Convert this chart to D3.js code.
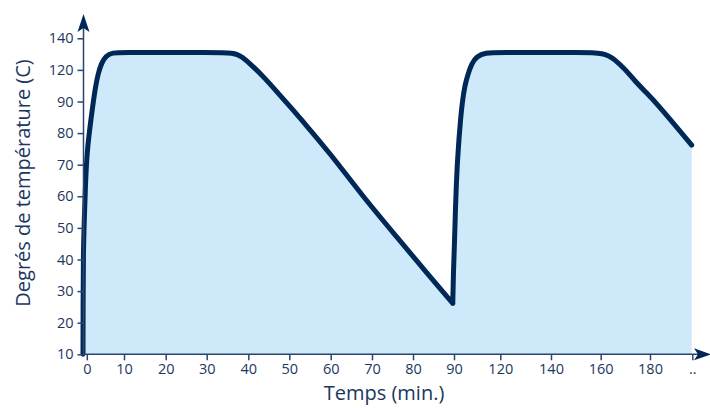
<!DOCTYPE html>
<html>
<head>
<meta charset="utf-8">
<script src="https://cdn.jsdelivr.net/npm/d3@7"></script>
<style>
    body { margin: 0; background: #fff; }
    text { font-family: "Open Sans", sans-serif; fill: #1c375e; }
</style>
</head>
<body>
<script>
// tick labels (the axes are not linear: every label sits at the same distance)
const xTicks = [0, 10, 20, 30, 40, 50, 60, 70, 80, 90, 120, 140, 160, 180, 200];
const xTickLabels = ["0", "10", "20", "30", "40", "50", "60", "70", "80", "90", "120", "140", "160", "180", ".."];
const yTicks = [10, 20, 30, 40, 50, 60, 70, 80, 90, 120, 140];

// temperature curve
const minutes = [-1.02, -0.99, -0.94, -0.67, -0.4, 0.05, 0.59, 1.13, 1.67, 2.28, 3.01, 3.95, 5.16, 6.77,
                 10, 20, 30, 36.8, 38.4, 40.8, 44.1, 47.3, 50.6, 53, 59.8, 67.8, 76, 84.1, 89.7,
                 89.87, 90.39, 90.91, 91.49, 92.2, 93.24, 94.3, 95.4, 97.1, 98.9, 101.5, 104.7, 110.1,
                 120, 140, 150, 161.7, 165.8, 169.9, 174, 178.1, 183.2, 199.7];
const temps = [10, 27.2, 42.1, 52.5, 63, 73.6, 79.4, 84.5, 89.2, 102.8, 116.1, 124.4, 128.8, 131,
               131, 131, 131, 131, 128.4, 123.1, 112, 97.8, 87.8, 84.1, 73.7, 59.9, 47.2, 34.6, 26.1,
               36.7, 46.2, 55.7, 63.6, 70.9, 78.4, 84.7, 89.9, 105.7, 115.2, 124.2, 128.4, 131,
               131, 131, 131, 131, 126.5, 120.4, 109.2, 99.3, 89.4, 76.2];
// the curve has a sharp corner at this point (end of cooling)
const cornerIndex = 28;

let width = 710, height = 408;

var svg = d3.select("body")
            .append("svg")
            .attr("width", width)
            .attr("height", height);

var xScale = d3.scaleLinear()
            .domain(xTicks)
            .range([86.8, 124, 165.7, 206.7, 248.3, 289.3, 330.7, 372, 413, 454, 500.3, 551, 600.7, 650, 692.3]);

var yScale = d3.scaleLinear()
            .domain(yTicks)
            .range(yTicks.map((d, i) => 354.3 - i * 31.6));

let points = minutes.map((m, i) => [m, temps[i]]);
let parts = [points.slice(0, cornerIndex + 1), points.slice(cornerIndex)];

var area = d3.area()
            .x((d) => xScale(d[0]))
            .y0(yScale(10))
            .y1((d) => yScale(d[1]))
            .curve(d3.curveBasis);

var line = d3.line()
            .x((d) => xScale(d[0]))
            .y((d) => yScale(d[1]))
            .curve(d3.curveBasis);

svg.append("path")
   .attr("d", parts.map((p) => area(p)).join(""))
   .attr("fill", "#cde9fa");

svg.append("path")
   .attr("d", parts.map((p) => line(p)).join(""))
   .attr("fill", "none")
   .attr("stroke", "#002856")
   .attr("stroke-width", 5)
   .attr("stroke-linejoin", "round")
   .attr("stroke-linecap", "round");

var xAxis = d3.axisBottom()
            .scale(xScale)
            .tickValues(xTicks)
            .tickFormat((d, i) => xTickLabels[i])
            .tickSizeOuter(0)
            .tickSize(6)
            .tickPadding(3);

var yAxis = d3.axisLeft()
            .scale(yScale)
            .tickValues(yTicks)
            .tickSizeOuter(0)
            .tickSize(6)
            .tickPadding(4);

let gx = svg.append("g")
   .attr("transform", `translate(0, ${yScale(10)})`)
   .call(xAxis);

let gy = svg.append("g")
   .attr("transform", "translate(83.5, 0)")
   .call(yAxis);

[gx, gy].forEach(function(g) {
    g.select(".domain").remove();
    g.selectAll(".tick line").attr("stroke", "#2a4670").attr("stroke-width", 1.5);
    g.selectAll(".tick text")
     .attr("font-family", "Open Sans")
     .attr("font-size", 14.5)
     .attr("fill", "#1c375e");
});

// axis lines with arrow heads
svg.append("line")
   .attr("x1", 83.5).attr("y1", yScale(10))
   .attr("x2", 83.5).attr("y2", 22)
   .attr("stroke", "#2a4670").attr("stroke-width", 1.5);

svg.append("line")
   .attr("x1", 83.5).attr("y1", yScale(10))
   .attr("x2", 703).attr("y2", yScale(10))
   .attr("stroke", "#2a4670").attr("stroke-width", 1.5);

svg.append("path")
   .attr("d", "M83.5,14 L89.5,32 L83.5,28 L77.5,32 Z")
   .attr("fill", "#002856");

let yb = yScale(10);
svg.append("path")
   .attr("d", `M711,${yb} L694,${yb - 6} L698,${yb} L694,${yb + 6} Z`)
   .attr("fill", "#002856");

svg.append("text")
   .attr("x", 384)
   .attr("y", 400)
   .attr("text-anchor", "middle")
   .attr("font-size", 20)
   .text("Temps (min.)");

svg.append("text")
   .attr("transform", "translate(30, 183) rotate(-90)")
   .attr("text-anchor", "middle")
   .attr("font-size", 20)
   .text("Degrés de température (C)");
</script>
</body>
</html>
